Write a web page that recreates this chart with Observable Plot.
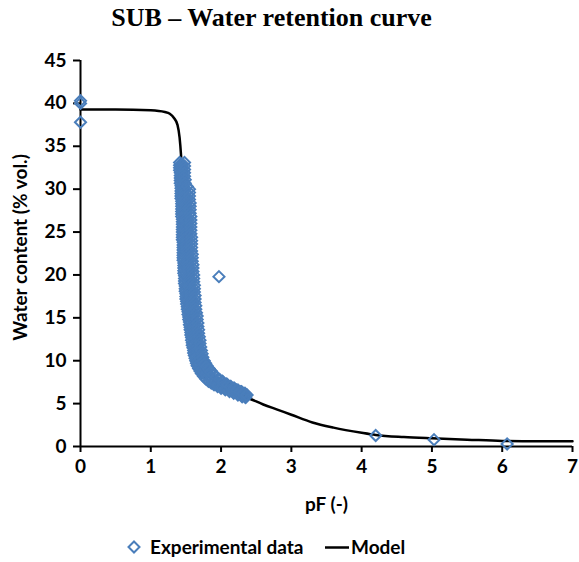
<!DOCTYPE html>
<html><head><meta charset="utf-8">
<script src="https://cdn.jsdelivr.net/npm/d3@7"></script>
<script src="https://cdn.jsdelivr.net/npm/@observablehq/plot@0.6"></script>
<style>
body{margin:0;background:#fff;width:579px;height:562px;position:relative;overflow:hidden;font-family:Lato,sans-serif}
#title{position:absolute;left:0;top:0;width:543px;text-align:center;font:bold 26px "Liberation Serif",serif;line-height:36px;color:#000}
#chart{position:absolute;left:0;top:40px}
.leg{position:absolute;top:535px;height:24px;font:bold 19px Lato,sans-serif;line-height:24px;color:#000;white-space:nowrap}
</style></head><body>
<div id="title">SUB – Water retention curve</div>
<div id="chart"></div>
<div class="leg" style="left:126px"><svg width="16" height="24"><path d="M8,6.5L13.5,12L8,17.5L2.5,12Z" fill="none" stroke="#4a7ebb" stroke-width="2"/></svg></div>
<div class="leg" style="left:150px">Experimental data</div>
<div class="leg" style="left:325px"><svg width="24" height="24"><line x1="0" x2="24" y1="12.5" y2="12.5" stroke="#000" stroke-width="2.5"/></svg></div>
<div class="leg" style="left:351px">Model</div>
<script>
// Isolated experimental points
const isoPF    = [0, 0, 0, 1.97, 4.20, 5.03, 6.07];
const isoTheta = [40.3, 40.0, 37.8, 19.8, 1.28, 0.80, 0.30];

// Dense experimental band, read as overlapping runs of points
const bandLeftTheta = [33.1,32.8,32.5,32.2,31.9,31.6,31.3,31.0,30.7,30.4,30.1,29.8,29.5,29.2,28.9,28.6,28.3,28.0,27.7,27.4,27.1,26.8,26.5,26.2,25.9,25.6,25.3,25.0,24.7,24.4,24.1,23.8,23.5,23.2,22.9,22.6,22.3,22.0,21.7,21.4,21.1,20.8,20.5,20.2,19.9,19.6,19.3,19.0,18.7,18.4,18.1,17.8,17.5,17.2,16.9,16.6,16.3,16.0,15.7,15.4,15.1,14.8,14.5,14.2,13.9,13.6,13.3,13.0,12.7,12.4,12.1,11.8,11.5,11.2,10.9,10.6,10.3,10.0,9.7,9.4,9.1,8.8,8.5,8.2,7.9,7.6,7.4,7.2,7.0,6.8,6.6,6.4,6.2,6.0,5.8,5.7];
const bandLeftPF    = [1.41,1.41,1.41,1.41,1.42,1.42,1.42,1.42,1.42,1.43,1.43,1.43,1.43,1.43,1.43,1.44,1.44,1.44,1.44,1.44,1.44,1.44,1.45,1.45,1.45,1.45,1.45,1.45,1.45,1.45,1.45,1.46,1.46,1.46,1.46,1.46,1.46,1.46,1.46,1.47,1.47,1.47,1.47,1.47,1.48,1.48,1.48,1.48,1.49,1.49,1.49,1.50,1.50,1.50,1.51,1.51,1.52,1.52,1.53,1.53,1.54,1.54,1.55,1.55,1.56,1.56,1.57,1.57,1.58,1.58,1.59,1.59,1.60,1.61,1.61,1.62,1.63,1.64,1.65,1.66,1.68,1.70,1.72,1.75,1.78,1.82,1.86,1.90,1.95,2.00,2.06,2.12,2.18,2.24,2.30,2.35];

const bandMidTheta = [32.9,32.6,32.3,32.0,31.7,31.4,31.1,30.8,30.5,30.2,29.9,29.6,29.3,29.0,28.7,28.4,28.1,27.8,27.5,27.2,26.9,26.6,26.3,26.0,25.7,25.4,25.1,24.8,24.5,24.2,23.9,23.6,23.3,23.0,22.7,22.4,22.1,21.8,21.5,21.2,20.9,20.6,20.3,20.0,19.7,19.4,19.1,18.8,18.5,18.2,17.9,17.6,17.3,17.0,16.7,16.4,16.1,15.8,15.5,15.2,14.9,14.6,14.3,14.0,13.7,13.4,13.1,12.8,12.5,12.2,11.9,11.6,11.3,11.0,10.7,10.4,10.1,9.8,9.5,9.2,8.9,8.6,8.3,8.0,7.7,7.5,7.3,7.1,6.9,6.7,6.5,6.3,6.1,5.9];
const bandMidPF    = [1.44,1.44,1.44,1.45,1.45,1.45,1.45,1.45,1.46,1.47,1.48,1.49,1.49,1.49,1.49,1.50,1.50,1.50,1.50,1.50,1.50,1.51,1.51,1.51,1.51,1.51,1.51,1.51,1.52,1.52,1.52,1.52,1.52,1.52,1.52,1.53,1.53,1.53,1.53,1.53,1.54,1.54,1.54,1.54,1.55,1.55,1.55,1.56,1.56,1.56,1.57,1.57,1.57,1.58,1.58,1.58,1.59,1.59,1.60,1.60,1.60,1.61,1.61,1.62,1.62,1.63,1.63,1.64,1.64,1.65,1.65,1.66,1.67,1.67,1.68,1.69,1.70,1.71,1.73,1.75,1.78,1.80,1.83,1.87,1.91,1.95,1.99,2.03,2.08,2.13,2.18,2.23,2.29,2.34];

const bandRightTheta = [33.1,32.7,32.3,31.9,31.5,31.1,30.7,30.3,30.0,29.6,29.2,28.8,28.4,28.0,27.6,27.2,26.8,26.4,26.0,25.6,25.2,24.8,24.4,24.0,23.6,23.2,22.8,22.4,22.0,21.6,21.2,20.8,20.4,20.0,19.6,19.2,18.8,18.4,18.0,17.6,17.2,16.8,16.4,16.0,15.6,15.2,14.8,14.4,14.0,13.6,13.2,12.8,12.4,12.0,11.6,11.2,10.8,10.4,10.0,9.7,9.4,9.1,8.8,8.5,8.2,7.9,7.6,7.3,7.0,6.8,6.6,6.4,6.2,6.0];
const bandRightPF    = [1.48,1.48,1.48,1.48,1.48,1.49,1.49,1.52,1.55,1.55,1.55,1.55,1.56,1.56,1.56,1.56,1.57,1.57,1.57,1.57,1.57,1.57,1.58,1.58,1.58,1.58,1.58,1.59,1.59,1.59,1.60,1.60,1.60,1.61,1.61,1.61,1.62,1.62,1.62,1.63,1.63,1.63,1.64,1.64,1.65,1.66,1.66,1.67,1.67,1.68,1.68,1.69,1.70,1.70,1.71,1.72,1.73,1.74,1.76,1.78,1.80,1.83,1.86,1.89,1.92,1.96,2.02,2.08,2.14,2.19,2.24,2.29,2.34,2.37];

// Extra runs filling the bend and the tail of the band
const bendLowTheta = [9.6,9.3,9.0,8.7,8.4,8.1,7.8,7.6,7.4,7.2,7.0,6.8,6.6,6.4,6.2,6.0,5.8];
const bendLowPF    = [1.69,1.71,1.73,1.75,1.78,1.81,1.85,1.88,1.92,1.96,2.01,2.06,2.11,2.17,2.23,2.29,2.34];
const bendHighTheta = [9.9,9.6,9.3,9.0,8.7,8.4,8.1,7.8,7.5,7.2,7.0,6.8,6.6,6.4,6.2,6.0];
const bendHighPF    = [1.74,1.76,1.79,1.82,1.85,1.89,1.93,1.98,2.03,2.09,2.13,2.18,2.22,2.27,2.31,2.36];

// Model curve
const modelPF    = [0, 0.5, 1.0, 1.2, 1.27, 1.33, 1.38, 1.41, 1.43, 1.45, 1.48, 1.52, 1.56, 1.62, 1.70, 1.80, 2.0, 2.2, 2.4, 2.6, 2.8, 3.0, 3.3, 3.6, 4.0, 4.2, 4.6, 5.0, 5.5, 6.0, 6.5, 7.0];
const modelTheta = [39.3, 39.3, 39.2, 39.0, 38.8, 38.3, 37.5, 36.0, 34.0, 31.0, 25.5, 20.0, 15.5, 11.5, 9.0, 7.8, 6.8, 6.2, 5.6, 4.9, 4.3, 3.7, 2.8, 2.2, 1.6, 1.35, 1.1, 0.95, 0.8, 0.65, 0.6, 0.6];

const xTicks = [0,1,2,3,4,5,6,7];
const yTicks = [0,5,10,15,20,25,30,35,40,45];

const pts = (xs, ys) => xs.map((x, i) => ({x, y: ys[i]}));
const exp = [
  ...pts(isoPF, isoTheta),
  ...pts(bandLeftPF, bandLeftTheta),
  ...pts(bandMidPF, bandMidTheta),
  ...pts(bandRightPF, bandRightTheta),
  ...pts(bendLowPF, bendLowTheta),
  ...pts(bendHighPF, bendHighTheta)
];
const model = pts(modelPF, modelTheta);

const chart = Plot.plot({
  width: 579,
  height: 480,
  marginTop: 20,
  marginLeft: 80,
  marginRight: 7,
  marginBottom: 74,
  style: {fontFamily: "Lato, sans-serif", background: "white", color: "black", overflow: "visible"},
  x: {domain: [0, 7]},
  y: {domain: [0, 45]},
  marks: [
    Plot.axisX({ticks: xTicks, tickSize: 6, tickPadding: 7, fontSize: 19, fontWeight: "bold", label: null, strokeWidth: 2, tickFormat: d => d}),
    Plot.axisY({ticks: yTicks, tickSize: 7, tickPadding: 7, fontSize: 19, fontWeight: "bold", label: null, strokeWidth: 2, tickFormat: d => d}),
    Plot.ruleX([0], {stroke: "black", strokeWidth: 2}),
    Plot.ruleY([0], {stroke: "black", strokeWidth: 2}),
    Plot.text(["pF (-)"], {frameAnchor: "bottom", textAnchor: "middle", lineAnchor: "middle", dx: 0, dy: 58, fontSize: 19, fontWeight: "bold", fill: "black"}),
    Plot.text(["Water content (% vol.)"], {frameAnchor: "left", textAnchor: "middle", lineAnchor: "middle", rotate: -90, dx: -60, dy: -6, fontSize: 19, fontWeight: "bold", fill: "black"}),
    Plot.line(model, {x: "x", y: "y", stroke: "black", strokeWidth: 2.5, curve: "monotone-x"}),
    Plot.dot(exp, {x: "x", y: "y", symbol: "diamond2", r: 5, stroke: "#4a7ebb", strokeWidth: 2, fill: "none"})
  ]
});
document.getElementById("chart").appendChild(chart);
</script>
</body></html>
